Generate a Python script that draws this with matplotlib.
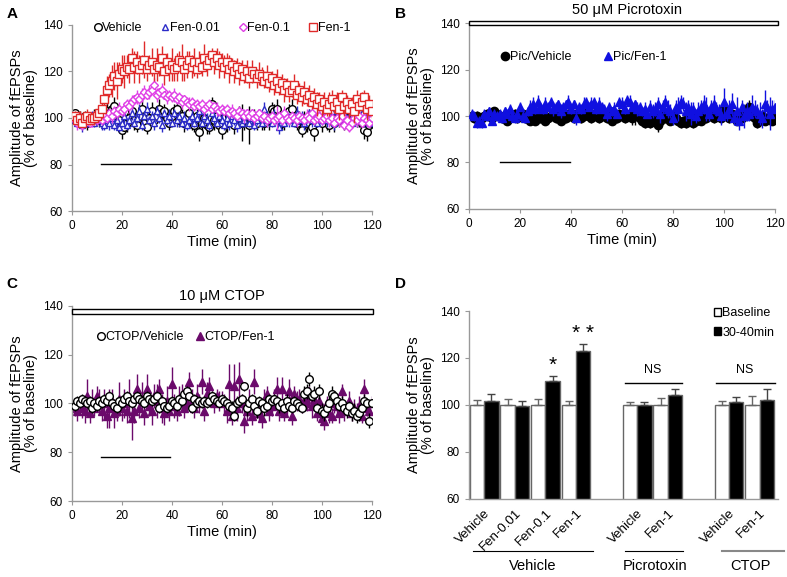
import numpy as np
import matplotlib
matplotlib.use("Agg")
import matplotlib.pyplot as plt
from matplotlib.patches import Patch, Rectangle

plt.rcParams['font.family'] = ['Liberation Sans', 'DejaVu Sans']

# ---- time axis (min) shared by A, B, C ----
time = np.arange(1, 121)

# ---- panel A ----
a_vehicle = [102, 101, 100, 99, 101, 98, 100, 99, 101, 100,
             99, 100, 101, 103, 102, 104, 105, 103, 99, 95,
             96, 98, 100, 103, 99, 97, 101, 104, 98, 96,
             100, 103, 99, 101, 104, 102, 103, 100, 98, 101,
             103, 104, 99, 101, 98, 100, 102, 99, 97, 101,
             94, 98, 100, 97, 96, 106, 99, 101, 97, 95,
             100, 98, 101, 99, 97, 100, 102, 98, 99, 101,
             97, 99, 100, 98, 101, 99, 98, 100, 99, 104,
             103, 104, 100, 98, 99, 101, 103, 104, 100, 98,
             99, 95, 100, 98, 101, 96, 94, 99, 100, 98,
             100, 99, 97, 101, 98, 100, 99, 101, 98, 100,
             98, 100, 101, 99, 100, 98, 95, 94, 97, 98]
a_vehicle_err = [2, 2, 3, 2, 2, 3, 2, 2, 3, 2,
                 3, 2, 3, 4, 3, 3, 4, 3, 3, 4,
                 3, 4, 3, 3, 4, 3, 3, 4, 3, 3,
                 3, 4, 3, 3, 4, 3, 3, 4, 3, 3,
                 3, 4, 3, 3, 4, 3, 3, 4, 3, 3,
                 4, 3, 3, 4, 3, 3, 4, 3, 3, 4,
                 3, 4, 3, 3, 4, 3, 3, 8, 4, 3,
                 8, 3, 4, 3, 3, 4, 3, 3, 4, 3,
                 3, 4, 5, 3, 4, 3, 3, 4, 3, 3,
                 4, 3, 3, 4, 3, 3, 4, 3, 3, 4,
                 3, 4, 3, 3, 4, 3, 3, 4, 3, 3,
                 3, 4, 3, 3, 4, 3, 4, 4, 3, 3]
a_fen001 = [99, 98, 100, 97, 99, 98, 99, 100, 98, 99,
            100, 98, 97, 99, 98, 100, 97, 99, 96, 98,
            101, 97, 99, 102, 98, 100, 103, 97, 101, 104,
            99, 101, 98, 103, 100, 97, 102, 99, 101, 98,
            102, 99, 101, 98, 100, 97, 99, 101, 98, 100,
            103, 98, 101, 99, 97, 102, 100, 98, 101, 99,
            97, 100, 98, 101, 99, 97, 100, 98, 99, 101,
            98, 100, 97, 99, 101, 98, 104, 99, 100, 98,
            101, 99, 96, 100, 98, 101, 99, 100, 98, 102,
            99, 101, 98, 100, 102, 99, 101, 98, 100, 99,
            101, 99, 100, 103, 98, 101, 99, 100, 102, 99,
            100, 98, 101, 99, 100, 102, 99, 101, 98, 100]
a_fen001_err = [2, 2, 2, 3, 2, 2, 2, 3, 2, 2,
                2, 3, 2, 2, 3, 2, 2, 3, 2, 2,
                3, 2, 2, 3, 2, 2, 3, 2, 2, 3,
                2, 2, 3, 2, 2, 3, 2, 2, 3, 2,
                2, 3, 2, 2, 3, 2, 2, 3, 2, 2,
                3, 2, 2, 3, 2, 2, 3, 2, 2, 3,
                2, 2, 3, 2, 2, 3, 2, 2, 3, 2,
                2, 3, 2, 2, 3, 2, 3, 3, 2, 2,
                3, 2, 3, 3, 2, 2, 3, 2, 2, 3,
                2, 2, 3, 2, 2, 3, 2, 2, 3, 2,
                2, 3, 2, 2, 3, 2, 2, 3, 2, 2,
                3, 2, 2, 3, 2, 2, 3, 2, 2, 3]
a_fen01 = [99, 98, 100, 97, 99, 100, 98, 99, 101, 99,
           100, 99, 101, 100, 102, 101, 103, 102, 104, 103,
           104, 106, 105, 107, 108, 109, 108, 110, 111, 110,
           111, 112, 114, 110, 111, 112, 110, 109, 110, 109,
           110, 108, 109, 107, 108, 107, 106, 107, 105, 106,
           105, 106, 104, 105, 106, 104, 105, 104, 103, 104,
           103, 104, 102, 103, 102, 101, 103, 102, 101, 102,
           101, 102, 100, 101, 102, 100, 101, 99, 100, 101,
           99, 100, 101, 99, 102, 100, 99, 101, 100, 99,
           101, 100, 99, 101, 100, 102, 99, 100, 101, 99,
           100, 101, 99, 100, 98, 100, 99, 101, 97, 99,
           96, 98, 100, 99, 101, 98, 100, 99, 98, 100]
a_fen01_err = [2, 3, 2, 2, 3, 2, 2, 3, 2, 2,
               2, 2, 3, 2, 2, 3, 2, 3, 3, 2,
               3, 2, 3, 3, 2, 3, 2, 3, 3, 2,
               3, 2, 3, 3, 2, 3, 2, 3, 2, 2,
               3, 2, 2, 3, 2, 2, 3, 2, 2, 2,
               2, 2, 3, 2, 2, 2, 2, 3, 2, 2,
               2, 2, 2, 3, 2, 2, 2, 2, 3, 2,
               2, 2, 3, 2, 2, 2, 2, 3, 2, 2,
               2, 5, 2, 2, 3, 2, 2, 2, 2, 3,
               2, 2, 2, 3, 2, 2, 2, 2, 3, 2,
               2, 2, 3, 2, 2, 2, 3, 2, 2, 2,
               2, 2, 2, 3, 2, 2, 2, 3, 2, 2]
a_fen1 = [101, 99, 100, 98, 100, 101, 99, 100, 100, 101,
          102, 104, 108, 112, 114, 116, 118, 116, 119, 121,
          120, 122, 121, 126, 122, 124, 121, 123, 125, 121,
          123, 124, 121, 123, 122, 126, 120, 124, 121, 123,
          121, 122, 125, 124, 121, 123, 125, 122, 124, 121,
          124, 122, 126, 123, 125, 127, 124, 126, 123, 124,
          122, 124, 121, 123, 120, 122, 119, 121, 118, 120,
          117, 120, 119, 117, 119, 118, 116, 118, 115, 117,
          114, 116, 113, 115, 112, 114, 111, 112, 114, 110,
          112, 109, 111, 108, 110, 107, 109, 106, 108, 105,
          107, 104, 106, 108, 105, 107, 104, 109, 105, 107,
          104, 106, 103, 108, 105, 107, 109, 104, 106, 103]
a_fen1_err = [2, 2, 3, 2, 2, 3, 2, 2, 3, 2,
              3, 4, 5, 6, 5, 7, 6, 8, 5, 6,
              7, 5, 6, 4, 7, 5, 6, 4, 8, 5,
              4, 6, 5, 7, 4, 5, 6, 4, 5, 7,
              5, 6, 4, 8, 5, 6, 4, 5, 6, 4,
              5, 4, 6, 5, 4, 3, 5, 4, 6, 4,
              5, 4, 6, 3, 5, 4, 5, 4, 3, 5,
              4, 5, 3, 4, 5, 4, 3, 5, 4, 3,
              4, 5, 3, 4, 5, 3, 4, 3, 5, 4,
              3, 4, 5, 3, 4, 3, 4, 5, 3, 4,
              4, 3, 5, 4, 3, 4, 5, 3, 4, 3,
              4, 3, 5, 4, 3, 4, 3, 5, 4, 3]

# ---- panel B ----
b_vehicle = [100, 99, 100, 98, 99, 100, 101, 100, 99, 102,
             101, 100, 99, 100, 98, 99, 100, 101, 99, 100,
             101, 99, 100, 98, 99, 98, 100, 99, 101, 98,
             99, 100, 101, 99, 100, 98, 100, 99, 101, 100,
             99, 101, 100, 99, 100, 102, 100, 99, 101, 100,
             99, 101, 100, 99, 100, 98, 100, 99, 101, 100,
             99, 100, 101, 99, 100, 101, 99, 98, 97, 98,
             97, 99, 100, 96, 98, 100, 99, 101, 98, 100,
             99, 98, 97, 98, 97, 99, 100, 97, 98, 99,
             98, 100, 99, 101, 100, 99, 101, 100, 99, 103,
             100, 99, 101, 100, 98, 100, 99, 100, 101, 104,
             100, 99, 97, 99, 100, 98, 99, 100, 98, 101]
b_vehicle_err = [2, 2, 2, 2, 2, 2, 2, 2, 2, 2,
                 2, 2, 2, 2, 2, 2, 2, 2, 2, 2,
                 2, 2, 2, 2, 2, 2, 2, 2, 2, 2,
                 2, 2, 2, 2, 2, 2, 2, 2, 2, 2,
                 2, 2, 2, 2, 2, 2, 2, 2, 2, 2,
                 2, 2, 2, 2, 2, 2, 2, 2, 2, 2,
                 2, 2, 2, 3, 4, 2, 2, 2, 2, 2,
                 2, 2, 2, 3, 2, 2, 2, 2, 2, 2,
                 2, 2, 2, 2, 2, 2, 2, 2, 2, 2,
                 2, 2, 2, 2, 2, 2, 2, 2, 2, 3,
                 2, 2, 2, 2, 2, 2, 2, 2, 2, 3,
                 2, 2, 2, 2, 2, 2, 2, 2, 2, 2]
b_fen1 = [101, 100, 97, 98, 97, 101, 100, 102, 98, 101,
          100, 101, 99, 102, 101, 103, 100, 99, 101, 104,
          100, 99, 102, 104, 105, 103, 106, 104, 103, 105,
          104, 106, 103, 104, 105, 102, 104, 105, 106, 103,
          105, 99, 104, 103, 105, 106, 104, 105, 106, 103,
          105, 104, 103, 101, 104, 102, 103, 101, 106, 105,
          103, 107, 106, 104, 105, 103, 104, 102, 103, 101,
          104, 102, 103, 105, 101, 104, 106, 103, 102, 99,
          104, 103, 106, 105, 102, 104, 101, 103, 100, 102,
          104, 105, 103, 101, 104, 105, 103, 102, 100, 106,
          101, 103, 105, 99, 102, 98, 104, 100, 102, 101,
          104, 103, 102, 101, 99, 105, 104, 101, 103, 104]
b_fen1_err = [2, 2, 2, 2, 2, 2, 2, 2, 2, 2,
              2, 2, 2, 2, 2, 2, 2, 2, 2, 2,
              2, 2, 2, 3, 3, 2, 3, 2, 2, 3,
              2, 2, 3, 2, 2, 3, 2, 2, 3, 2,
              2, 3, 2, 2, 3, 2, 2, 3, 2, 2,
              3, 2, 2, 3, 2, 2, 3, 2, 2, 3,
              2, 2, 3, 2, 2, 3, 2, 2, 3, 2,
              3, 3, 3, 3, 4, 3, 3, 4, 3, 3,
              3, 5, 3, 3, 4, 3, 5, 3, 3, 4,
              3, 4, 5, 3, 3, 4, 3, 3, 4, 6,
              3, 4, 5, 3, 6, 4, 3, 5, 4, 3,
              5, 4, 3, 5, 4, 6, 3, 7, 4, 3]

# ---- panel C ----
c_vehicle = [99, 101, 100, 102, 101, 100, 101, 98, 100, 99,
             101, 100, 102, 101, 103, 100, 99, 98, 101, 100,
             102, 103, 101, 100, 102, 103, 102, 101, 100, 103,
             102, 101, 102, 103, 98, 101, 99, 98, 99, 101,
             100, 99, 102, 101, 104, 105, 103, 98, 102, 100,
             101, 100, 101, 100, 101, 103, 102, 101, 100, 102,
             101, 100, 99, 98, 95, 100, 101, 102, 107, 98,
             100, 102, 99, 97, 101, 100, 98, 99, 102, 101,
             102, 101, 99, 100, 98, 101, 99, 98, 101, 100,
             99, 98, 104, 105, 110, 103, 104, 98, 105, 97,
             96, 98, 100, 104, 103, 101, 99, 100, 98, 97,
             99, 96, 97, 95, 96, 98, 101, 100, 93, 100]
c_vehicle_err = [2, 2, 2, 2, 2, 2, 2, 2, 2, 2,
                 2, 2, 2, 2, 2, 2, 2, 2, 2, 2,
                 2, 2, 2, 2, 2, 2, 2, 2, 2, 2,
                 2, 2, 2, 2, 2, 2, 2, 2, 2, 2,
                 2, 2, 2, 2, 2, 2, 2, 2, 2, 2,
                 2, 2, 2, 2, 2, 2, 2, 2, 2, 2,
                 2, 2, 2, 3, 2, 2, 2, 2, 2, 3,
                 2, 2, 2, 3, 2, 2, 3, 2, 2, 2,
                 2, 2, 3, 2, 2, 3, 2, 2, 2, 2,
                 2, 2, 3, 3, 3, 2, 3, 2, 3, 3,
                 3, 2, 3, 3, 2, 3, 2, 3, 2, 3,
                 2, 3, 3, 3, 3, 2, 3, 2, 3, 2]
c_fen1 = [98, 97, 100, 98, 97, 103, 96, 101, 98, 103,
          101, 97, 100, 95, 98, 101, 96, 97, 102, 98,
          100, 97, 102, 94, 97, 106, 98, 102, 96, 106,
          99, 97, 103, 101, 106, 98, 96, 101, 97, 108,
          99, 97, 101, 103, 98, 100, 109, 101, 98, 103,
          100, 109, 97, 104, 107, 102, 100, 103, 101, 102,
          100, 97, 108, 95, 107, 98, 110, 100, 93, 97,
          101, 95, 109, 98, 96, 94, 101, 104, 97, 99,
          102, 106, 97, 106, 96, 99, 105, 95, 104, 101,
          102, 99, 101, 100, 103, 99, 102, 96, 101, 94,
          93, 100, 96, 95, 100, 99, 96, 105, 97, 98,
          101, 96, 98, 97, 99, 95, 106, 98, 97, 100]
c_fen1_err = [3, 4, 3, 4, 5, 7, 4, 5, 3, 4,
              5, 4, 6, 5, 8, 5, 6, 4, 7, 5,
              6, 5, 8, 9, 5, 6, 4, 7, 5, 6,
              4, 6, 5, 7, 4, 6, 5, 6, 4, 7,
              5, 4, 6, 5, 4, 3, 4, 5, 4, 5,
              4, 5, 4, 5, 4, 3, 4, 3, 4, 3,
              4, 5, 8, 4, 9, 5, 7, 4, 5, 4,
              5, 4, 5, 4, 3, 4, 5, 3, 4, 4,
              4, 5, 4, 5, 3, 4, 5, 4, 3, 4,
              4, 3, 4, 3, 4, 5, 4, 3, 4, 3,
              4, 3, 4, 3, 4, 3, 4, 3, 4, 3,
              4, 3, 4, 3, 4, 3, 4, 3, 4, 3]

# ---- panel D ----
d_labels = ['Vehicle', 'Fen-0.01', 'Fen-0.1', 'Fen-1', 'Vehicle', 'Fen-1', 'Vehicle', 'Fen-1']
d_pos = [0, 1, 2, 3, 5, 6, 8, 9]
d_base = [100, 100, 100, 100, 100, 100, 100, 100]
d_base_err = [2.3, 2.6, 2.6, 1.8, 1.2, 2.8, 1.9, 4.0]
d_post = [101.7, 99.4, 110.3, 123.0, 100.2, 104.3, 101.2, 102.3]
d_post_err = [2.8, 2.5, 2.0, 2.8, 1.2, 2.5, 2.0, 4.3]
d_groups = ['Vehicle', 'Picrotoxin', 'CTOP']

fig = plt.figure(figsize=(7.87, 5.77), dpi=100)
axA = fig.add_axes([0.0915, 0.6343, 0.381, 0.3224])
axB = fig.add_axes([0.5959, 0.6378, 0.3888, 0.3223])
axC = fig.add_axes([0.0915, 0.1317, 0.381, 0.338])
axD = fig.add_axes([0.5959, 0.1352, 0.3926, 0.3258])

spine_col = '#999999'


def style_axes(ax):
    for s in ['top', 'right']:
        ax.spines[s].set_visible(False)
    for s in ['left', 'bottom']:
        ax.spines[s].set_color(spine_col)
        ax.spines[s].set_linewidth(1.0)
    ax.tick_params(colors=spine_col, labelcolor='black', labelsize=8.5, length=3)
    ax.set_ylim(60, 140)
    ax.set_yticks([60, 80, 100, 120, 140])
    ax.set_ylabel('Amplitude of fEPSPs\n(% of baseline)', fontsize=10.5, linespacing=1.0)


def style_time(ax):
    style_axes(ax)
    ax.set_xlim(0, 120)
    ax.set_xticks([0, 20, 40, 60, 80, 100, 120])
    ax.set_xlabel('Time (min)', fontsize=10.5, labelpad=2)


def series(ax, y, err, color, marker, ms, mfc, mew=1.0, label=None, z=2):
    ax.errorbar(time, y, yerr=err, fmt='none', ecolor=color, elinewidth=1.0, zorder=z)
    ax.plot(time, y, linestyle='none', marker=marker, ms=ms, mfc=mfc, mec=color,
            mew=mew, label=label, zorder=z + 0.5)


# A
style_time(axA)
series(axA, a_vehicle, a_vehicle_err, 'black', 'o', 5.5, 'white', label='Vehicle', z=2)
series(axA, a_fen001, a_fen001_err, '#2b2bc8', '^', 5, 'white', label='Fen-0.01', z=3)
series(axA, a_fen01, a_fen01_err, '#e040e6', 'D', 4, 'white', label='Fen-0.1', z=4)
series(axA, a_fen1, a_fen1_err, '#e02a2a', 's', 6, 'white', label='Fen-1', z=5)
axA.plot([11.5, 39.5], [80.3, 80.3], color='black', lw=1)
axA.legend(loc='upper left', bbox_to_anchor=(0.035, 1.075), ncol=4, frameon=False,
           fontsize=9, handlelength=0.6, handletextpad=0.05, columnspacing=1.55)

# B
style_time(axB)
series(axB, b_vehicle, b_vehicle_err, 'black', 'o', 6, 'black', label='Pic/Vehicle', z=2)
series(axB, b_fen1, b_fen1_err, '#1010e0', '^', 6, '#1010e0', label='Pic/Fen-1', z=3)
axB.plot([12.2, 39.6], [80, 80], color='black', lw=1)
axB.add_patch(Rectangle((0, 139.2), 121, 1.6, facecolor='white', edgecolor='black',
                        lw=1, clip_on=False, zorder=6))
axB.text(62, 145.5, '50 μM Picrotoxin', ha='center', va='center', fontsize=10.5)
axB.legend(loc='upper left', bbox_to_anchor=(0.07, 0.91), ncol=2, frameon=False,
           fontsize=9, handlelength=0.6, handletextpad=0.1, columnspacing=2.6)

# C
style_time(axC)
series(axC, c_fen1, c_fen1_err, '#6b0a6b', '^', 6, '#6b0a6b', label='CTOP/Fen-1', z=2)
series(axC, c_vehicle, c_vehicle_err, 'black', 'o', 5.5, 'white', label='CTOP/Vehicle', z=3)
axC.plot([11.5, 39.2], [78.2, 78.2], color='black', lw=1)
axC.add_patch(Rectangle((0, 136.8), 120.4, 1.9, facecolor='white', edgecolor='black',
                        lw=1, clip_on=False, zorder=6))
axC.text(60, 144.0, '10 μM CTOP', ha='center', va='center', fontsize=10.5)
hC, lC = axC.get_legend_handles_labels()
axC.legend(hC[::-1], lC[::-1], loc='upper left', bbox_to_anchor=(0.045, 0.93), ncol=2,
           frameon=False, fontsize=9, handlelength=0.6, handletextpad=0.05, columnspacing=1.0)

# D
style_axes(axD)
bw = 0.47
pos = np.array(d_pos)
axD.bar(pos - bw / 2, d_base, bw, bottom=0, color='white', edgecolor='#666666', lw=1, zorder=2)
axD.bar(pos + bw / 2, d_post, bw, bottom=0, color='black', edgecolor='#666666', lw=1, zorder=2)
axD.errorbar(pos - bw / 2, d_base, yerr=[np.zeros(len(d_base)), d_base_err], fmt='none',
             ecolor='#666666', elinewidth=1, capsize=3, zorder=3)
axD.errorbar(pos + bw / 2, d_post, yerr=[np.zeros(len(d_post)), d_post_err], fmt='none',
             ecolor='#444444', elinewidth=1, capsize=3, zorder=3)
axD.set_xlim(-0.5, 9.6)
axD.set_xticks(pos)
axD.set_xticklabels(d_labels, rotation=45, ha='right', rotation_mode='anchor', fontsize=9.5)
axD.tick_params(axis='x', length=0, pad=6)
axD.text(2 + bw / 2, 117, '*', ha='center', va='center', fontsize=15)
axD.text(3 + bw / 2, 130.5, '* *', ha='center', va='center', fontsize=15)
axD.plot([4.6, 6.45], [109.5, 109.5], color='black', lw=1)
axD.text(5.5, 115, 'NS', ha='center', va='center', fontsize=9)
axD.plot([7.58, 9.5], [109.5, 109.5], color='black', lw=1)
axD.text(8.5, 115, 'NS', ha='center', va='center', fontsize=9)
trD = axD.get_xaxis_transform()
axD.plot([-0.37, 3.55], [-0.275, -0.275], transform=trD, color='black', lw=0.8, clip_on=False)
axD.plot([4.61, 6.49], [-0.275, -0.275], transform=trD, color='black', lw=0.8, clip_on=False)
axD.plot([7.78, 9.79], [-0.275, -0.275], transform=trD, color='#888888', lw=1.5, clip_on=False)
for gx, g in zip([1.57, 5.58, 8.7], d_groups):
    axD.text(gx, -0.355, g, transform=trD, ha='center', va='center', fontsize=10.5)
hD = [Patch(facecolor='white', edgecolor='black'), Patch(facecolor='black', edgecolor='black')]
axD.legend(hD, ['Baseline', '30-40min'], loc='upper left', bbox_to_anchor=(0.755, 1.08),
           frameon=False, fontsize=9, handlelength=0.6, handleheight=0.6,
           handletextpad=0.1, labelspacing=0.6)

# panel letters
for x, y, s in [(0.008, 0.975, 'A'), (0.502, 0.975, 'B'), (0.008, 0.508, 'C'), (0.502, 0.508, 'D')]:
    fig.text(x, y, s, fontsize=11, fontweight='bold', va='center')

fig.savefig('out.png', dpi=100)
